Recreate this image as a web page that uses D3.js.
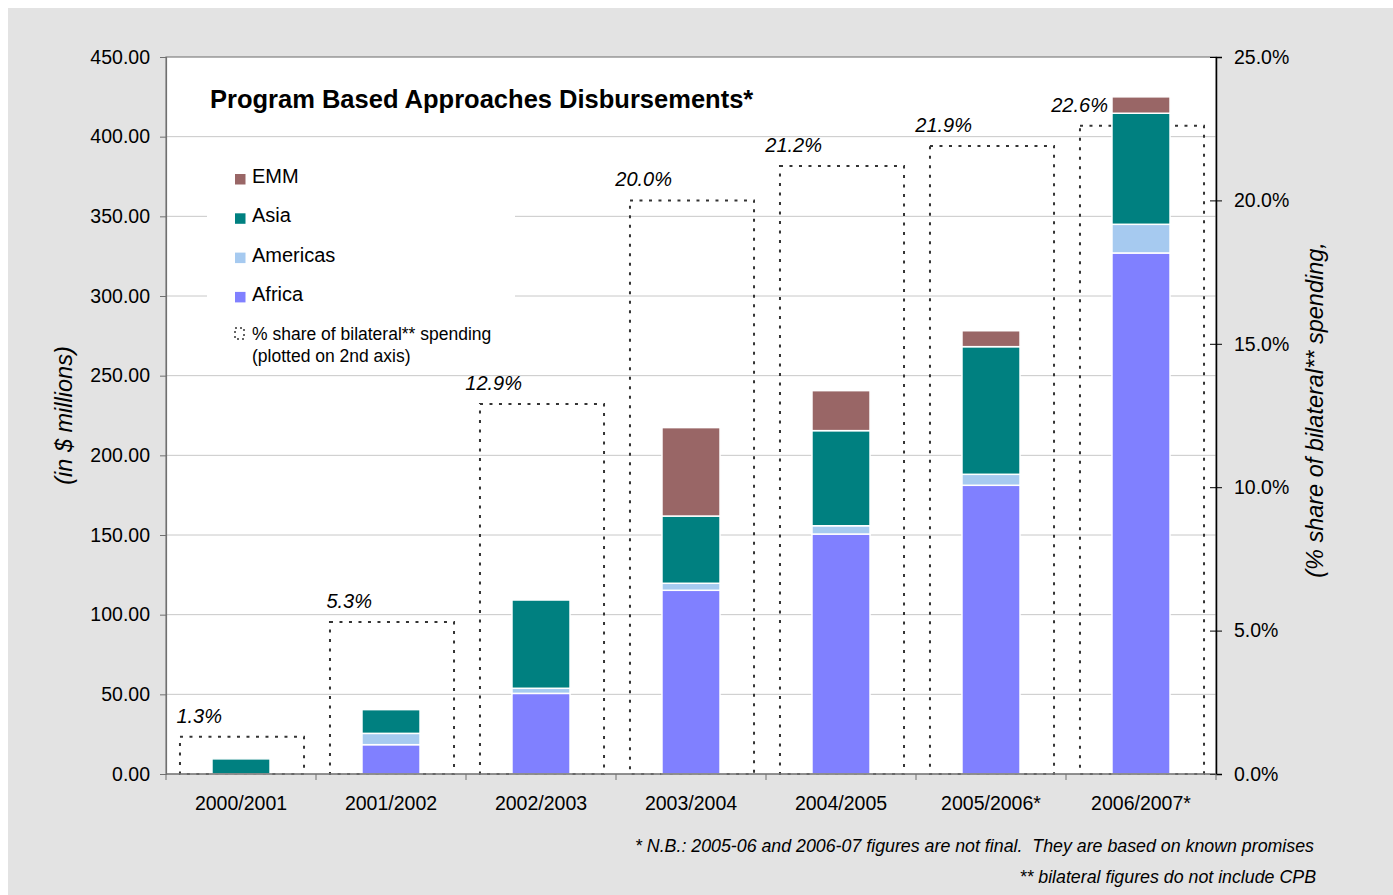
<!DOCTYPE html>
<html>
<head>
<meta charset="utf-8">
<script src="https://cdn.jsdelivr.net/npm/d3@7"></script>
<style>
  body { margin: 0; background: #fff; }
  svg { display: block; font-family: "Liberation Sans", Arial, sans-serif; }
  .tick-label { font-size: 19.5px; fill: #000; }
  .pct-label { font-size: 20px; font-style: italic; fill: #000; }
  .axis-title { font-size: 23.5px; font-style: italic; fill: #000; }
  .legend-text { font-size: 20px; fill: #000; }
  .legend-small { font-size: 17.5px; fill: #000; }
  .footnote { font-family: "Liberation Sans Narrow", "Arial Narrow", sans-serif; font-size: 17.8px; font-style: italic; fill: #000; white-space: pre; }
</style>
</head>
<body>
<svg id="chart"></svg>
<script>
// ---- data ----
const years = ['2000/2001', '2001/2002', '2002/2003', '2003/2004', '2004/2005', '2005/2006*', '2006/2007*'];
const africa   = [0,    18.4, 50.6, 115.3, 150.6, 181.2, 327.0];
const americas = [0,    7.1,  3.2,  4.4,   5.2,   6.9,   18.0];
const asia     = [9.5,  14.9, 55.4, 42.2,  59.7,  80.1,  69.7];
const emm      = [0,    0,    0,    55.5,  25.1,  10.0,  10.3];
const shareBilateral = [1.3, 5.3, 12.9, 20.0, 21.2, 21.9, 22.6];

const leftTicks = [0, 50, 100, 150, 200, 250, 300, 350, 400, 450];
const rightTicks = [0, 5, 10, 15, 20, 25];

const seriesKeys = ['Africa', 'Americas', 'Asia', 'EMM'];
const seriesColors = {Africa: '#8080ff', Americas: '#a6caf0', Asia: '#008080', EMM: '#996666'};
const legendOrder = ['EMM', 'Asia', 'Americas', 'Africa'];

const config = {
  width: 1393, height: 895,
  plot: {left: 166, right: 1216, top: 57, bottom: 774},
  barFrac: 0.387,
  boxFrac: 0.827
};

const svg = d3.select('#chart')
    .attr('width', config.width)
    .attr('height', config.height);

// outer gray frame
svg.append('rect')
    .attr('x', 8).attr('y', 8)
    .attr('width', config.width - 8).attr('height', config.height - 8)
    .attr('fill', '#e3e3e3');

const p = config.plot;

// plot area background
svg.append('rect')
    .attr('x', p.left).attr('y', p.top)
    .attr('width', p.right - p.left).attr('height', p.bottom - p.top)
    .attr('fill', '#fff');

// scales
const xScale = d3.scaleBand().domain(years).range([p.left, p.right]).padding(0);
const yScale = d3.scaleLinear().domain([0, 450]).range([p.bottom, p.top]);
const y2Scale = d3.scaleLinear().domain([0, 25]).range([p.bottom, p.top]);

// gridlines
svg.append('g')
  .selectAll('line')
  .data(leftTicks.filter(d => d > 0 && d < 450))
  .join('line')
    .attr('x1', p.left).attr('x2', p.right)
    .attr('y1', d => yScale(d)).attr('y2', d => yScale(d))
    .attr('stroke', '#c8c8c8')
    .attr('stroke-width', 1);

// legend background (hides gridlines behind legend)
svg.append('rect')
    .attr('x', 207).attr('y', 152)
    .attr('width', 308).attr('height', 218)
    .attr('fill', '#fff');

// stacked data
const table = years.map((y, i) => ({
  year: y, Africa: africa[i], Americas: americas[i], Asia: asia[i], EMM: emm[i]
}));
const stacked = d3.stack().keys(seriesKeys)(table);

const barW = xScale.bandwidth() * config.barFrac;
const boxW = xScale.bandwidth() * config.boxFrac;
const center = d => xScale(d) + xScale.bandwidth() / 2;

// dashed boxes for % share (2nd axis)
svg.append('g')
  .selectAll('rect')
  .data(years)
  .join('rect')
    .attr('x', d => center(d) - boxW / 2 + 1)
    .attr('y', (d, i) => y2Scale(shareBilateral[i]))
    .attr('width', boxW)
    .attr('height', (d, i) => p.bottom - y2Scale(shareBilateral[i]))
    .attr('fill', 'none')
    .attr('stroke', '#333')
    .attr('stroke-width', 2)
    .attr('stroke-dasharray', '3,6.5');

// stacked bars
svg.append('g')
  .selectAll('g')
  .data(stacked)
  .join('g')
    .attr('fill', d => seriesColors[d.key])
  .selectAll('rect')
  .data(d => d.filter(s => s[1] - s[0] > 0))
  .join('rect')
    .attr('x', d => center(d.data.year) - barW / 2)
    .attr('y', d => yScale(d[1]))
    .attr('width', barW)
    .attr('height', d => yScale(d[0]) - yScale(d[1]))
    .attr('stroke', '#fff')
    .attr('stroke-width', 1.5);

// % labels above boxes; shift left if they would run into the bar
const totals = table.map(d => seriesKeys.reduce((s, k) => s + d[k], 0));
svg.append('g')
  .selectAll('text')
  .data(years)
  .join('text')
    .attr('class', 'pct-label')
    .attr('text-anchor', 'end')
    .attr('x', (d, i) => {
      const base = y2Scale(shareBilateral[i]) - 14;
      const barTop = yScale(totals[i]);
      return base > barTop ? center(d) - barW / 2 - 4 : center(d) - 19;
    })
    .attr('y', (d, i) => y2Scale(shareBilateral[i]) - 14)
    .text((d, i) => shareBilateral[i].toFixed(1) + '%');

// plot border
svg.append('rect')
    .attr('x', p.left).attr('y', p.top)
    .attr('width', p.right - p.left).attr('height', p.bottom - p.top)
    .attr('fill', 'none')
    .attr('stroke', '#808080')
    .attr('stroke-width', 1.2);

// left axis
const leftAxis = d3.axisLeft(yScale)
    .tickValues(leftTicks)
    .tickFormat(d3.format('.2f'))
    .tickSize(6)
    .tickPadding(10);
const leftG = svg.append('g')
    .attr('transform', `translate(${p.left},0)`)
    .call(leftAxis);
leftG.select('.domain').attr('stroke', '#707070').attr('stroke-width', 1.2);
leftG.selectAll('.tick line').attr('stroke', '#707070');
leftG.selectAll('.tick text').attr('class', 'tick-label').attr('font-size', null).attr('font-family', null);

// right axis (crossing ticks)
const rightAxis = d3.axisRight(y2Scale)
    .tickValues(rightTicks)
    .tickFormat(d => d.toFixed(1) + '%')
    .tickSize(6)
    .tickPadding(12);
const rightG = svg.append('g')
    .attr('transform', `translate(${p.right},0)`)
    .call(rightAxis);
rightG.select('.domain').attr('stroke', '#000').attr('stroke-width', 1.5);
rightG.selectAll('.tick line').attr('x1', -6).attr('stroke', '#000');
rightG.selectAll('.tick text').attr('class', 'tick-label').attr('font-size', null).attr('font-family', null);

// bottom axis: tick marks at category boundaries
const bottomG = svg.append('g');
bottomG.append('line')
    .attr('x1', p.left).attr('x2', p.right)
    .attr('y1', p.bottom).attr('y2', p.bottom)
    .attr('stroke', '#707070').attr('stroke-width', 1.2);
bottomG.selectAll('.bt')
  .data(years.concat(['end']))
  .join('line')
    .attr('class', 'bt')
    .attr('x1', d => d === 'end' ? p.right : xScale(d))
    .attr('x2', d => d === 'end' ? p.right : xScale(d))
    .attr('y1', p.bottom).attr('y2', p.bottom + 6)
    .attr('stroke', '#707070');
bottomG.selectAll('text')
  .data(years)
  .join('text')
    .attr('class', 'tick-label')
    .attr('text-anchor', 'middle')
    .attr('x', d => center(d))
    .attr('y', p.bottom + 36)
    .text(d => d);

// title
svg.append('text')
    .attr('x', 210).attr('y', 108)
    .attr('font-size', 25.5)
    .attr('font-weight', 'bold')
    .text('Program Based Approaches Disbursements*');

// legend
const legend = svg.append('g').attr('transform', 'translate(235,0)');
legendOrder.forEach((k, i) => {
  const cy = 178 + i * 39.3;
  legend.append('rect')
      .attr('x', 0).attr('y', cy - 4)
      .attr('width', 10.5).attr('height', 10.5)
      .attr('fill', seriesColors[k]);
  legend.append('text')
      .attr('class', 'legend-text')
      .attr('x', 17).attr('y', cy + 5)
      .text(k);
});
legend.append('rect')
    .attr('x', 0).attr('y', 328)
    .attr('width', 9).attr('height', 11)
    .attr('fill', 'none')
    .attr('stroke', '#333')
    .attr('stroke-width', 1.5)
    .attr('stroke-dasharray', '2,3');
legend.append('text')
    .attr('class', 'legend-small')
    .attr('x', 17).attr('y', 340)
    .text('% share of bilateral** spending');
legend.append('text')
    .attr('class', 'legend-small')
    .attr('x', 17).attr('y', 362)
    .text('(plotted on 2nd axis)');

// axis titles
svg.append('text')
    .attr('class', 'axis-title')
    .attr('text-anchor', 'middle')
    .attr('transform', `translate(72,${(p.top + p.bottom) / 2}) rotate(-90)`)
    .text('(in $ millions)');
svg.append('text')
    .attr('class', 'axis-title')
    .attr('text-anchor', 'middle')
    .attr('transform', `translate(1323,410) rotate(-90)`)
    .text('(% share of bilateral** spending,');

// footnotes
svg.append('text')
    .attr('class', 'footnote')
    .attr('text-anchor', 'end')
    .attr('x', 1314).attr('y', 852)
    .text('* N.B.: 2005-06 and 2006-07 figures are not final.  They are based on known promises');
svg.append('text')
    .attr('class', 'footnote')
    .attr('text-anchor', 'end')
    .attr('x', 1316).attr('y', 883)
    .text('** bilateral figures do not include CPB');
</script>
</body>
</html>
